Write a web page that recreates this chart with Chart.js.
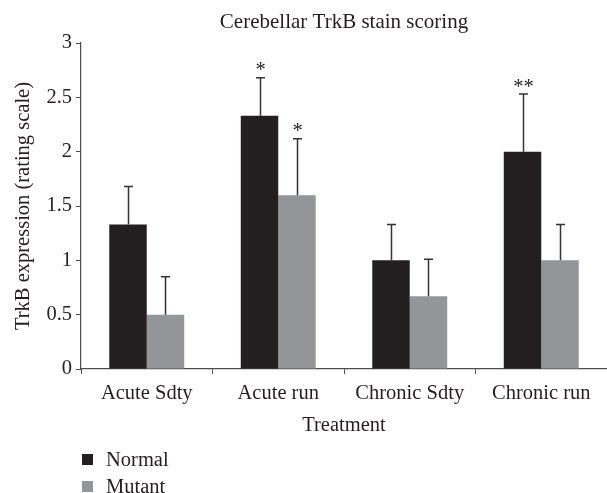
<!DOCTYPE html>
<html>
<head>
<meta charset="utf-8">
<script src="https://cdn.jsdelivr.net/npm/chart.js@4/dist/chart.umd.min.js"></script>
<style>
  html, body { margin: 0; padding: 0; background: #ffffff; }
  canvas { display: block; }
</style>
</head>
<body>
<canvas id="c" width="607" height="493"></canvas>
<script>
// ---- data ----
const categories = ['Acute Sdty', 'Acute run', 'Chronic Sdty', 'Chronic run'];
const seriesNames = ['Normal', 'Mutant'];
const normalValues = [1.33, 2.33, 1.0, 2.0];
const mutantValues = [0.5, 1.6, 0.67, 1.0];
const normalErrors = [0.35, 0.35, 0.33, 0.53];
const mutantErrors = [0.35, 0.52, 0.34, 0.33];
const normalMarks = ['', '*', '', '**'];
const mutantMarks = ['', '*', '', ''];
const yTickValues = [0, 0.5, 1, 1.5, 2, 2.5, 3];
const chartTitle = 'Cerebellar TrkB stain scoring';
const xTitle = 'Treatment';
const yTitle = 'TrkB expression (rating scale)';

const FONT = 'Liberation Serif';
const TEXT = '#231f20';
const AXIS = '#4d4d4d';
const colors = ['#231f20', '#939598'];
const errorSets = [normalErrors, mutantErrors];
const markSets = [normalMarks, mutantMarks];

const errorBarPlugin = {
  id: 'errorBars',
  afterDatasetsDraw(chart) {
    const ctx = chart.ctx;
    const yScale = chart.scales.y;
    ctx.save();
    chart.data.datasets.forEach((ds, di) => {
      const meta = chart.getDatasetMeta(di);
      meta.data.forEach((el, i) => {
        const v = ds.data[i];
        const e = errorSets[di][i];
        const yTop = yScale.getPixelForValue(v + e);
        const x = Math.round(el.x) + 0.5;
        ctx.strokeStyle = '#333333';
        ctx.lineWidth = 1.5;
        ctx.beginPath();
        ctx.moveTo(x, el.y);
        ctx.lineTo(x, yTop);
        ctx.moveTo(x - 4.5, yTop);
        ctx.lineTo(x + 4.5, yTop);
        ctx.stroke();
        const mark = markSets[di][i];
        if (mark) {
          ctx.fillStyle = TEXT;
          ctx.font = '20.5px "' + FONT + '"';
          ctx.textAlign = 'center';
          ctx.textBaseline = 'alphabetic';
          ctx.fillText(mark, x, yTop - 1.5);
        }
      });
    });
    ctx.restore();
  }
};

// title centred over the plot area, plus stacked legend below the axis
const textPlugin = {
  id: 'titleAndLegend',
  afterDraw(chart) {
    const ctx = chart.ctx;
    const area = chart.chartArea;
    ctx.save();
    ctx.fillStyle = TEXT;
    ctx.font = '21px "' + FONT + '"';
    ctx.textAlign = 'center';
    ctx.textBaseline = 'alphabetic';
    ctx.fillText(chartTitle, (area.left + area.right) / 2, 28);

    ctx.font = '20.5px "' + FONT + '"';
    ctx.textAlign = 'left';
    chart.data.datasets.forEach((ds, di) => {
      const baseY = 466 + di * 27;
      ctx.fillStyle = ds.backgroundColor;
      ctx.fillRect(82, baseY - 12, 11, 11);
      ctx.fillStyle = TEXT;
      ctx.fillText(ds.label, 106, baseY);
    });
    ctx.restore();
  }
};

new Chart(document.getElementById('c'), {
  type: 'bar',
  data: {
    labels: categories,
    datasets: [
      { label: seriesNames[0], data: normalValues, backgroundColor: colors[0], borderWidth: 0 },
      { label: seriesNames[1], data: mutantValues, backgroundColor: colors[1], borderWidth: 0 }
    ]
  },
  options: {
    responsive: false,
    devicePixelRatio: 1,
    animation: false,
    layout: { padding: { left: 0, right: 0, top: 43, bottom: 54 } },
    datasets: { bar: { categoryPercentage: 0.57, barPercentage: 1.0 } },
    plugins: {
      legend: { display: false },
      tooltip: { enabled: false },
      title: { display: false }
    },
    scales: {
      x: {
        grid: { display: true, offset: true, drawOnChartArea: false, drawTicks: true, tickLength: 5, color: AXIS, lineWidth: 1 },
        border: { display: true, color: AXIS, width: 1.2 },
        ticks: { color: TEXT, font: { family: FONT, size: 20.5 }, padding: 7, maxRotation: 0, autoSkip: false },
        title: { display: true, text: xTitle, color: TEXT, font: { family: FONT, size: 20.5 }, padding: { top: 0, bottom: 1 } },
        afterFit(scale) { scale.height = 70; }
      },
      y: {
        min: 0,
        max: 3,
        afterBuildTicks(scale) { scale.ticks = yTickValues.map(v => ({ value: v })); },
        grid: { display: true, drawOnChartArea: false, drawTicks: true, tickLength: 5, color: AXIS, lineWidth: 1 },
        border: { display: true, color: AXIS, width: 1.2 },
        ticks: { color: TEXT, font: { family: FONT, size: 20.5 }, padding: 4, callback: v => String(v) },
        title: { display: true, text: yTitle, color: TEXT, font: { family: FONT, size: 20.5 }, padding: { top: 11, bottom: 0 } },
        afterFit(scale) { scale.width = 81; }
      }
    }
  },
  plugins: [errorBarPlugin, textPlugin]
});
</script>
</body>
</html>
